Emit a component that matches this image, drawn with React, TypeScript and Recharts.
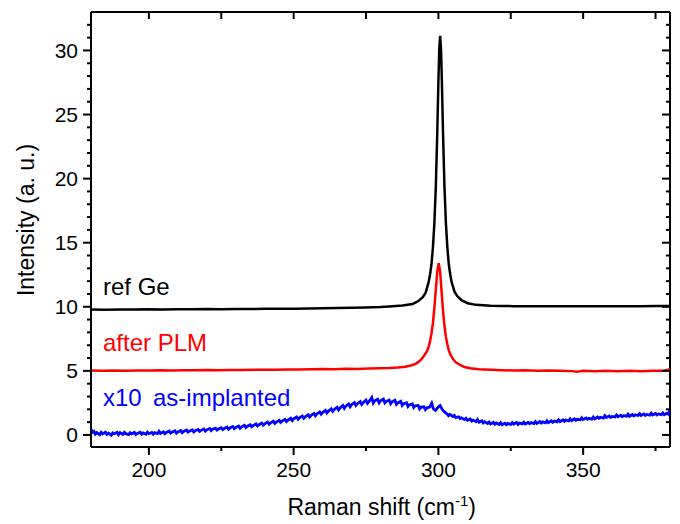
import React from 'react';
import { LineChart, Line, XAxis, YAxis, ReferenceLine } from 'recharts';

// Raman spectra, [shift cm-1, intensity a.u.]
const refGe: [number, number][] = [
  [180, 9.78], [185, 9.77], [190, 9.79], [195, 9.78], [200, 9.8], [205, 9.79], [210, 9.81],
  [215, 9.8], [220, 9.82], [225, 9.81], [230, 9.83], [235, 9.82], [240, 9.84], [245, 9.85],
  [250, 9.85], [255, 9.86], [260, 9.88], [265, 9.9], [270, 9.92], [275, 9.95], [280, 9.98],
  [283, 10.02], [287.6, 10.1], [291.1, 10.22], [293.1, 10.45], [294.6, 10.75], [295.6, 11.1],
  [296.6, 11.9], [297.1, 12.5], [297.6, 13.3], [298.1, 14.6], [298.6, 16.5], [299.1, 19.3],
  [299.6, 23.5], [300.0, 27.6], [300.3, 30.1], [300.6, 31.15], [300.9, 30.1], [301.2, 27.6],
  [301.6, 23.5], [302.1, 19.3], [302.6, 16.5], [303.1, 14.6], [303.6, 13.3], [304.1, 12.5],
  [304.6, 11.9], [305.6, 11.15], [306.6, 10.8], [308.1, 10.5], [310.1, 10.28], [313, 10.15],
  [318, 10.08], [322, 10.06], [326, 10.05], [330, 10.04], [335, 10.05], [340, 10.04],
  [345, 10.05], [350, 10.04], [355, 10.05], [360, 10.04], [365, 10.05], [370, 10.05],
  [375, 10.06], [380, 10.06],
];

const afterPLM: [number, number][] = [
  [180, 5.03], [184, 5.0], [188, 5.02], [192, 5.01], [196, 5.03], [200, 5.02], [204, 5.04],
  [208, 5.03], [212, 5.05], [216, 5.04], [220, 5.06], [224, 5.05], [228, 5.07], [232, 5.06],
  [236, 5.08], [240, 5.09], [244, 5.08], [248, 5.11], [252, 5.1], [256, 5.12], [260, 5.14],
  [264, 5.13], [268, 5.16], [272, 5.15], [276, 5.18], [280, 5.2], [283, 5.22], [286, 5.27],
  [288.5, 5.33], [290.5, 5.42], [292.1, 5.55], [293.1, 5.7], [294.1, 5.9], [295.1, 6.2],
  [296.1, 6.55], [296.6, 6.85], [297.1, 7.3], [297.6, 7.9], [298.1, 8.7], [298.6, 9.9],
  [299.1, 11.3], [299.6, 12.75], [300.1, 13.4], [300.6, 12.75], [301.1, 11.2], [301.6, 9.7],
  [302.1, 8.5], [302.6, 7.65], [303.1, 7.05], [303.6, 6.6], [304.1, 6.3], [305.1, 5.9],
  [306.1, 5.65], [307.5, 5.46], [309, 5.3], [311, 5.2], [314, 5.12], [318, 5.08], [322, 5.05],
  [326, 5.03], [330, 5.04], [334, 5.01], [338, 5.02], [342, 5.0], [346, 4.98], [348, 4.93],
  [350, 5.0], [354, 4.98], [358, 5.0], [362, 4.97], [366, 5.0], [370, 4.98], [374, 5.0],
  [378, 5.01], [380, 5.12],
];

const asImplantedX10: [number, number][] = [
  [180, 0.45], [180.5, 0.2], [181, 0.28], [181.5, 0.06], [182, 0.18], [183, 0.02], [183.5, 0.2],
  [184, 0.08], [185, 0.22], [185.5, 0.04], [186, 0.14], [187, -0.02], [187.5, 0.16], [188, 0.1],
  [189, 0.2], [189.5, 0.02], [190, 0.18], [191, 0.05], [191.5, 0.2], [192, 0.1], [193, 0.02],
  [193.5, 0.17], [194, 0.08], [195, 0.2], [195.5, 0.04], [196, 0.12], [197, 0.22], [197.5, 0.06],
  [198, 0.16], [199, 0.05], [199.5, 0.22], [200, 0.1], [201, 0.2], [201.5, 0.06], [202, 0.18],
  [203, 0.1], [203.5, 0.28], [204, 0.12], [205, 0.24], [205.5, 0.1], [206, 0.2], [207, 0.3],
  [207.5, 0.14], [208, 0.22], [209, 0.32], [209.5, 0.14], [210, 0.24], [211, 0.34], [211.5, 0.18],
  [212, 0.28], [213, 0.38], [213.5, 0.22], [214, 0.3], [215, 0.4], [215.5, 0.24], [216, 0.33],
  [217, 0.43], [217.5, 0.28], [218, 0.36], [219, 0.47], [219.5, 0.3], [220, 0.4], [221, 0.5],
  [221.5, 0.34], [222, 0.44], [223, 0.53], [223.5, 0.38], [224, 0.46], [225, 0.57], [225.5, 0.42],
  [226, 0.5], [227, 0.62], [227.5, 0.44], [228, 0.55], [229, 0.66], [229.5, 0.5], [230, 0.58],
  [231, 0.7], [231.5, 0.52], [232, 0.62], [233, 0.75], [233.5, 0.58], [234, 0.68], [235, 0.8],
  [235.5, 0.64], [236, 0.73], [237, 0.86], [237.5, 0.7], [238, 0.8], [239, 0.93], [239.5, 0.76],
  [240, 0.86], [241, 1.0], [241.5, 0.84], [242, 0.94], [243, 1.07], [243.5, 0.9], [244, 1.0],
  [245, 1.14], [245.5, 0.98], [246, 1.08], [247, 1.22], [247.5, 1.04], [248, 1.15], [249, 1.3],
  [249.5, 1.12], [250, 1.25], [251, 1.4], [251.5, 1.22], [252, 1.33], [253, 1.48], [253.5, 1.3],
  [254, 1.42], [255, 1.58], [255.5, 1.4], [256, 1.52], [257, 1.68], [257.5, 1.5], [258, 1.64],
  [259, 1.8], [259.5, 1.62], [260, 1.74], [261, 1.92], [261.5, 1.72], [262, 1.86], [263, 2.04],
  [263.5, 1.84], [264, 1.98], [265, 2.16], [265.5, 1.95], [266, 2.1], [267, 2.3], [267.5, 2.08],
  [268, 2.24], [269, 2.42], [269.5, 2.2], [270, 2.36], [271, 2.52], [271.5, 2.3], [272, 2.44],
  [273, 2.6], [273.5, 2.38], [274, 2.52], [275, 2.72], [275.5, 2.46], [276, 2.6], [277, 2.92],
  [277.5, 2.5], [278, 2.66], [279, 2.78], [279.5, 2.5], [280, 2.66], [281, 2.8], [281.5, 2.5],
  [282, 2.62], [283, 2.72], [283.5, 2.44], [284, 2.58], [285, 2.7], [285.5, 2.38], [286, 2.5],
  [287, 2.62], [287.5, 2.3], [288, 2.44], [289, 2.52], [289.5, 2.22], [290, 2.36], [291, 2.42],
  [291.5, 2.14], [292, 2.28], [293, 2.3], [293.5, 2.04], [294, 2.18], [295, 2.2], [295.5, 1.98],
  [296, 2.12], [297, 2.18], [297.7, 2.48], [298.3, 2.02], [299, 1.92], [300, 2.2], [300.6, 2.3],
  [301.3, 2.0], [302, 1.82], [303, 1.64], [303.5, 1.5], [304, 1.6], [305, 1.44], [305.5, 1.52],
  [306, 1.36], [307, 1.42], [307.5, 1.28], [308, 1.34], [309, 1.2], [309.5, 1.3], [310, 1.14],
  [311, 1.24], [311.5, 1.08], [312, 1.16], [313, 1.04], [313.5, 1.2], [314, 1.0], [315, 1.1],
  [315.5, 0.94], [316, 1.04], [317, 0.9], [317.5, 1.0], [318, 0.86], [319, 0.98], [319.5, 0.84],
  [320, 0.94], [321, 0.82], [321.5, 0.96], [322, 0.8], [323, 0.92], [323.5, 0.8], [324, 0.9],
  [325, 0.82], [325.5, 0.96], [326, 0.84], [327, 0.98], [327.5, 0.82], [328, 0.92], [329, 0.86],
  [329.5, 1.0], [330, 0.86], [331, 0.98], [331.5, 0.88], [332, 0.96], [333, 0.88], [333.5, 1.04],
  [334, 0.9], [335, 1.04], [335.5, 0.92], [336, 1.02], [337, 0.94], [337.5, 1.1], [338, 0.96],
  [339, 1.1], [339.5, 0.98], [340, 1.08], [341, 1.02], [341.5, 1.18], [342, 1.04], [343, 1.18],
  [343.5, 1.06], [344, 1.16], [345, 1.1], [345.5, 1.26], [346, 1.12], [347, 1.26], [347.5, 1.14],
  [348, 1.22], [349, 1.18], [349.5, 1.34], [350, 1.2], [351, 1.32], [351.5, 1.22], [352, 1.3],
  [353, 1.24], [353.5, 1.4], [354, 1.26], [355, 1.4], [355.5, 1.3], [356, 1.38], [357, 1.32],
  [357.5, 1.5], [358, 1.36], [359, 1.48], [359.5, 1.36], [360, 1.44], [361, 1.4], [361.5, 1.56],
  [362, 1.42], [363, 1.54], [363.5, 1.42], [364, 1.5], [365, 1.46], [365.5, 1.62], [366, 1.46],
  [367, 1.6], [367.5, 1.48], [368, 1.56], [369, 1.52], [369.5, 1.66], [370, 1.52], [371, 1.64],
  [371.5, 1.52], [372, 1.6], [373, 1.54], [373.5, 1.7], [374, 1.56], [375, 1.68], [375.5, 1.56],
  [376, 1.64], [377, 1.58], [377.5, 1.72], [378, 1.58], [379, 1.7], [379.5, 1.62], [380, 1.92],
];

const xTicks = [200, 225, 250, 275, 300, 325, 350, 375];
const xLabelled = [200, 250, 300, 350];
const yTicks = [0, 1, 2, 3, 4, 5, 6, 7, 8, 9, 10, 11, 12, 13, 14, 15, 16, 17, 18, 19, 20, 21, 22, 23, 24, 25, 26, 27, 28, 29, 30, 31, 32];
const yLabelled = [0, 5, 10, 15, 20, 25, 30];

const W = 672;
const H = 516;
const M = { top: 4, right: 10, left: 83, bottom: 77 };
const PLOT_W = W - M.left - M.right;
const PLOT_H = H - M.top - M.bottom;
const FONT = '"Liberation Sans", Arial, sans-serif';

const toPts = (arr: [number, number][]) => arr.map(([x, y]) => ({ x, y }));

const BottomTick = (props: any) => {
  const { x, y, payload } = props;
  const v = payload.value;
  const major = xLabelled.includes(v);
  return (
    <g>
      <line x1={x} x2={x} y1={y} y2={y + (major ? 8 : 4)} stroke="#000" strokeWidth={2} />
      <line x1={x} x2={x} y1={y - PLOT_H} y2={y - PLOT_H + 7} stroke="#000" strokeWidth={2} />
      {major && (
        <text x={x} y={y + 30} textAnchor="middle" fontFamily={FONT} fontSize={21} fill="#000">
          {v}
        </text>
      )}
    </g>
  );
};

const LeftTick = (props: any) => {
  const { x, y, payload } = props;
  const v = payload.value;
  const major = yLabelled.includes(v);
  return (
    <g>
      <line x1={x - (major ? 8 : 4)} x2={x} y1={y} y2={y} stroke="#000" strokeWidth={2} />
      <line x1={x + PLOT_W} x2={x + PLOT_W - (major ? 8 : 4)} y1={y} y2={y} stroke="#000" strokeWidth={2} />
      {major && (
        <text x={x - 13} y={y + 7.5} textAnchor="end" fontFamily={FONT} fontSize={21} fill="#000">
          {v}
        </text>
      )}
    </g>
  );
};

export default function App() {
  return (
    <div style={{ position: 'relative', width: W, height: H }}>
      <LineChart width={W} height={H} margin={{ top: M.top, right: M.right, left: 0, bottom: 0 }}>
        <XAxis
          dataKey="x"
          type="number"
          domain={[180, 380]}
          allowDataOverflow
          ticks={xTicks}
          interval={0}
          height={M.bottom}
          tickSize={0}
          tickMargin={0}
          tickLine={false}
          tick={<BottomTick />}
          axisLine={{ stroke: '#000', strokeWidth: 2 }}
        />
        <YAxis
          type="number"
          domain={[-0.94, 33]}
          allowDataOverflow
          ticks={yTicks}
          interval={0}
          width={M.left}
          tickSize={0}
          tickMargin={0}
          tickLine={false}
          tick={<LeftTick />}
          axisLine={{ stroke: '#000', strokeWidth: 2 }}
        />
        <ReferenceLine y={33} stroke="#000" strokeWidth={2} />
        <ReferenceLine x={380} stroke="#000" strokeWidth={2} />
        <Line data={toPts(asImplantedX10)} dataKey="y" stroke="#0000ff" strokeWidth={2.8} dot={false} isAnimationActive={false} />
        <Line data={toPts(afterPLM)} dataKey="y" stroke="#ff0000" strokeWidth={2.5} dot={false} isAnimationActive={false} />
        <Line data={toPts(refGe)} dataKey="y" stroke="#000000" strokeWidth={2.5} dot={false} isAnimationActive={false} />
      </LineChart>
      <svg width={W} height={H} style={{ position: 'absolute', left: 0, top: 0, pointerEvents: 'none' }}>
        <g fontFamily={FONT} fontSize={24}>
          <text x={95} y={287} fill="#000">ref Ge</text>
          <text x={95} y={343} fill="#ff0000">after PLM</text>
          <text x={95} y={398} fill="#0000ff">x10</text>
          <text x={145} y={398} fill="#0000ff">as-implanted</text>
        </g>
        <text x={373.7} y={507} textAnchor="middle" fontFamily={FONT} fontSize={23} fill="#000">
          Raman shift (cm<tspan fontSize={15} dy={-9}>-1</tspan><tspan dy={9}>)</tspan>
        </text>
        <text
          transform="translate(25.5 212) rotate(-90)"
          textAnchor="middle"
          fontFamily={FONT}
          fontSize={23}
          fill="#000"
        >
          Intensity (a. u.)
        </text>
      </svg>
    </div>
  );
}
